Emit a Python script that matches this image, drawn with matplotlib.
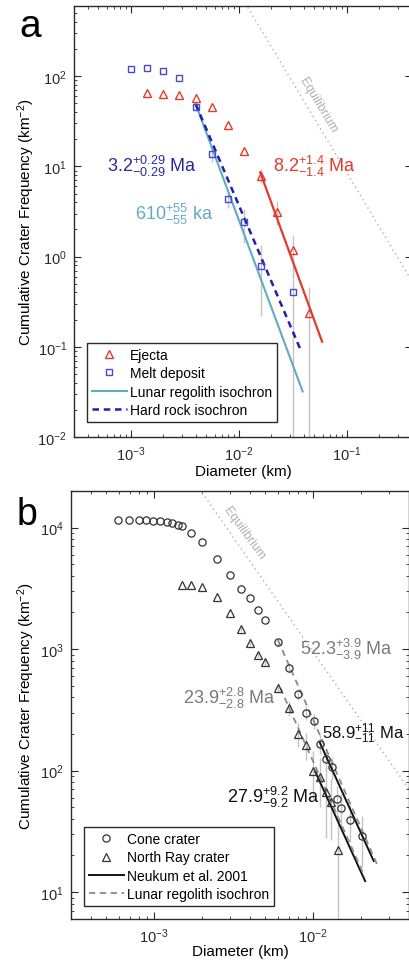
import numpy as np
import matplotlib
matplotlib.use("Agg")
import matplotlib.pyplot as plt
from matplotlib.ticker import LogLocator, NullFormatter

plt.rcParams['font.family'] = ['Liberation Sans', 'DejaVu Sans']
plt.rcParams['mathtext.fontset'] = 'custom'
plt.rcParams['mathtext.rm'] = 'Liberation Sans'
plt.rcParams['mathtext.it'] = 'Liberation Sans:italic'
plt.rcParams['mathtext.bf'] = 'Liberation Sans:bold'

# ---- panel a data (diameter km, cumulative frequency km^-2) ----
ejecta_d = [1.41e-3, 2.0e-3, 2.83e-3, 4.0e-3, 5.66e-3, 8.0e-3, 1.13e-2, 1.6e-2, 2.26e-2, 3.2e-2, 4.5e-2]
ejecta_n = [65, 63, 62, 57, 45, 28.6, 15, 7.9, 3.1, 1.17, 0.24]
ejecta_err_lo = [0, 0, 0, 0, 0, 0, 0, 1.4, 0.85, 0.58, 0.2399]
ejecta_err_hi = [0, 0, 0, 0, 0, 0, 0, 1.4, 1.0, 0.58, 0.22]

melt_d = [1.0e-3, 1.41e-3, 2.0e-3, 2.83e-3, 4.0e-3, 5.66e-3, 8.0e-3, 1.13e-2, 1.6e-2, 3.2e-2]
melt_n = [120, 123, 114, 95, 46, 13.6, 4.4, 2.4, 0.79, 0.40]
melt_err_lo = [0, 0, 0, 0, 0, 2.3, 0.9, 1.0, 0.57, 0.3999]
melt_err_hi = [0, 0, 0, 0, 0, 2.3, 0.9, 1.0, 0.57, 0.40]

regolith_a_d = [4.0e-3, 3.9e-2]
regolith_a_n = [49, 0.032]
hardrock_a_d = [4.0e-3, 3.8e-2]
hardrock_a_n = [49, 0.088]
ejecta_fit_d = [1.58e-2, 5.9e-2]
ejecta_fit_n = [8.6, 0.114]
equil_a_d = [1.0e-2, 0.4]
equil_a_n = [850, 0.53]

# ---- panel b data ----
cone_d = [0.596e-3, 0.698e-3, 0.798e-3, 0.887e-3, 0.986e-3, 1.09e-3, 1.2e-3, 1.3e-3, 1.41e-3, 1.5e-3,
          1.7e-3, 2.0e-3, 2.48e-3, 3.0e-3, 3.5e-3, 4.0e-3, 4.47e-3, 5.0e-3, 6.0e-3, 7.08e-3,
          8.05e-3, 9.0e-3, 1.01e-2, 1.11e-2, 1.2e-2, 1.32e-2, 1.41e-2, 1.5e-2, 1.7e-2, 2.02e-2]
cone_n = [11560, 11560, 11560, 11480, 11400, 11270, 11050, 10840, 10590, 10250,
          9100, 7540, 5470, 4040, 3110, 2620, 2090, 1730, 1140, 698,
          427, 299, 257, 166, 125, 106, 58, 49, 39, 29]
cone_err = [0] * 18 + [75, 60, 45, 40, 36, 29, 25, 23, 17, 15, 13, 13]

nr_d = [1.5e-3, 1.7e-3, 2.0e-3, 2.48e-3, 3.0e-3, 3.5e-3, 4.0e-3, 4.47e-3, 5.0e-3,
        6.0e-3, 7.08e-3, 8.0e-3, 9.0e-3, 9.9e-3, 1.11e-2, 1.2e-2, 1.3e-2, 1.43e-2]
nr_n = [3350, 3350, 3220, 2670, 1970, 1460, 1120, 893, 782,
        479, 328, 200, 163, 100, 88, 66, 55, 22]
nr_err_lo = [0, 0, 0, 0, 0, 60, 55, 50, 50, 45, 45, 45, 42, 42, 38, 38, 28, 21.99]
nr_err_hi = [0, 0, 0, 0, 0, 60, 55, 50, 50, 45, 45, 45, 42, 45, 40, 40, 30, 18]

cone_neukum_d = [1.1e-2, 2.4e-2]
cone_neukum_n = [170, 18]
cone_regolith_d = [6.0e-3, 2.55e-2]
cone_regolith_n = [1185, 16.3]
nr_neukum_d = [1.03e-2, 2.12e-2]
nr_neukum_n = [98, 12.3]
nr_regolith_d = [6.2e-3, 2.1e-2]
nr_regolith_n = [479, 13.5]
equil_b_d = [2.0e-3, 4.0e-2]
equil_b_n = [19400, 70]

RED = '#e23b2c'
BLUE_MK = '#4848c8'
BLUE_DK = '#2a2a9c'
BLUE_LN = '#1f1fb0'
CYAN = '#62aac6'
GRAYTXT = '#7a7a7a'
ERR = '#c4c4c4'
AXC = '#2a2a2a'

W, H = 409, 962
fig = plt.figure(figsize=(W / 100, H / 100), dpi=100)
ax1 = fig.add_axes([74 / W, 1 - 438 / H, 338 / W, 431 / H])
ax2 = fig.add_axes([71 / W, 1 - 920 / H, 338 / W, 428 / H])


def style(ax):
    ax.set_xscale('log')
    ax.set_yscale('log')
    for a in (ax.xaxis, ax.yaxis):
        a.set_major_locator(LogLocator(base=10, numticks=12))
        a.set_minor_locator(LogLocator(base=10, subs=np.arange(2, 10), numticks=100))
        a.set_minor_formatter(NullFormatter())
    ax.tick_params(which='both', direction='in', top=True, right=True, colors=AXC,
                   labelsize=10.5, pad=5)
    ax.tick_params(which='major', length=5, width=0.8)
    ax.tick_params(which='minor', length=2.5, width=0.6)
    for s in ax.spines.values():
        s.set_color(AXC)
        s.set_linewidth(1.0)


# ---------------- panel a ----------------
style(ax1)
ax1.plot(equil_a_d, equil_a_n, linestyle=(0, (1, 2.5)), color='#b0b0b0', lw=1.0)
ax1.errorbar(ejecta_d, ejecta_n, yerr=[ejecta_err_lo, ejecta_err_hi], fmt='none',
             ecolor=ERR, elinewidth=1.0, capsize=0, zorder=1)
ax1.errorbar(melt_d, melt_n, yerr=[melt_err_lo, melt_err_hi], fmt='none',
             ecolor=ERR, elinewidth=1.0, capsize=0, zorder=1)
ax1.plot(ejecta_fit_d, ejecta_fit_n, color=RED, lw=1.6, zorder=3)
l_reg, = ax1.plot(regolith_a_d, regolith_a_n, color=CYAN, lw=1.5, zorder=3,
                  label='Lunar regolith isochron')
l_hard, = ax1.plot(hardrock_a_d, hardrock_a_n, color=BLUE_LN, lw=1.8, zorder=3,
                   dashes=(2.6, 1.9), label='Hard rock isochron')
l_ej, = ax1.plot(ejecta_d, ejecta_n, linestyle='none', marker='^', ms=5.5, mew=1.0,
                 mfc='none', mec=RED, zorder=4, label='Ejecta')
l_melt, = ax1.plot(melt_d, melt_n, linestyle='none', marker='s', ms=4.2, mew=1.0,
                   mfc='none', mec=BLUE_MK, zorder=4, label='Melt deposit')

ax1.set_xlim(3e-4, 4e-1)
ax1.set_ylim(1e-2, 6e2)

ax1.text(6.05e-4, 8.9, r'$\mathregular{3.2^{+0.29}_{-0.29}}$ Ma', color=BLUE_DK,
         fontsize=13, ha='left', va='baseline')
ax1.text(1.1e-3, 2.6, r'$\mathregular{610^{+55}_{-55}}$ ka', color=CYAN,
         fontsize=13, ha='left', va='baseline')
ax1.text(2.07e-2, 8.9, r'$\mathregular{8.2^{+1.4}_{-1.4}}$ Ma', color=RED,
         fontsize=13, ha='left', va='baseline')
ax1.text(5.4e-2, 49, 'Equilibrium', color='#b0b0b0', fontsize=9, rotation=-59,
         ha='center', va='center')

ax1.set_xlabel('Diameter (km)', fontsize=11, va='top')
ax1.xaxis.set_label_coords(0.5, -0.063)
ax1.set_ylabel('Cumulative Crater Frequency (km$^{-2}$)', fontsize=11)
ax1.yaxis.set_label_coords(-0.108, 0.5)

leg1 = ax1.legend(handles=[l_ej, l_melt, l_reg, l_hard], loc='lower left',
                  bbox_to_anchor=(0.0385, 0.035), borderaxespad=0, fontsize=10,
                  numpoints=1, handlelength=2.5, handletextpad=0.25,
                  labelspacing=0.32, borderpad=0.35, fancybox=False, framealpha=1)
leg1.get_frame().set_edgecolor(AXC)
leg1.get_frame().set_linewidth(1.0)

# ---------------- panel b ----------------
style(ax2)
ax2.plot(equil_b_d, equil_b_n, linestyle=(0, (1, 2.5)), color='#b0b0b0', lw=1.0)
ax2.errorbar(cone_d, cone_n, yerr=cone_err, fmt='none', ecolor=ERR,
             elinewidth=1.0, capsize=0, zorder=1)
ax2.errorbar(nr_d, nr_n, yerr=[nr_err_lo, nr_err_hi], fmt='none', ecolor=ERR,
             elinewidth=1.0, capsize=0, zorder=1)
l_neu, = ax2.plot(cone_neukum_d, cone_neukum_n, color='#111111', lw=1.4, zorder=3,
                  label='Neukum et al. 2001')
ax2.plot(nr_neukum_d, nr_neukum_n, color='#111111', lw=1.4, zorder=3)
l_lr, = ax2.plot(cone_regolith_d, cone_regolith_n, color='#8a8a8a', lw=1.3, zorder=3,
                 dashes=(3.5, 2.5), label='Lunar regolith isochron')
ax2.plot(nr_regolith_d, nr_regolith_n, color='#8a8a8a', lw=1.3, zorder=3, dashes=(3.5, 2.5))
l_cone, = ax2.plot(cone_d, cone_n, linestyle='none', marker='o', ms=5.2, mew=0.9,
                   mfc='none', mec='#333333', zorder=4, label='Cone crater')
l_nr, = ax2.plot(nr_d, nr_n, linestyle='none', marker='^', ms=5.5, mew=0.9,
                 mfc='none', mec='#333333', zorder=4, label='North Ray crater')

ax2.set_xlim(3e-4, 4e-2)
ax2.set_ylim(6, 2e4)

ax2.text(8.26e-3, 910, r'$\mathregular{52.3^{+3.9}_{-3.9}}$ Ma', color=GRAYTXT,
         fontsize=13, ha='left', va='baseline')
ax2.text(1.52e-3, 361, r'$\mathregular{23.9^{+2.8}_{-2.8}}$ Ma', color=GRAYTXT,
         fontsize=13, ha='left', va='baseline')
ax2.text(1.13e-2, 186, r'$\mathregular{58.9^{+11}_{-11}}$ Ma', color='#111111',
         fontsize=12, ha='left', va='baseline')
ax2.text(2.87e-3, 54.7, r'$\mathregular{27.9^{+9.2}_{-9.2}}$ Ma', color='#111111',
         fontsize=13, ha='left', va='baseline')
ax2.text(3.67e-3, 9100, 'Equilibrium', color='#b0b0b0', fontsize=9, rotation=-54,
         ha='center', va='center')

ax2.set_xlabel('Diameter (km)', fontsize=11, va='top')
ax2.xaxis.set_label_coords(0.5, -0.058)
ax2.set_ylabel('Cumulative Crater Frequency (km$^{-2}$)', fontsize=11)
ax2.yaxis.set_label_coords(-0.1, 0.5)

leg2 = ax2.legend(handles=[l_cone, l_nr, l_neu, l_lr], loc='lower left',
                  bbox_to_anchor=(0.0385, 0.03), borderaxespad=0, fontsize=10,
                  numpoints=1, handlelength=2.5, handletextpad=0.25,
                  labelspacing=0.32, borderpad=0.35, fancybox=False, framealpha=1)
leg2.get_frame().set_edgecolor(AXC)
leg2.get_frame().set_linewidth(1.0)

# panel letters
fig.text(19 / W, 1 - 37 / H, 'a', fontsize=28, ha='left', va='baseline')
fig.text(17 / W, 1 - 525 / H, 'b', fontsize=27, ha='left', va='baseline')

fig.savefig('out.png', dpi=100)
